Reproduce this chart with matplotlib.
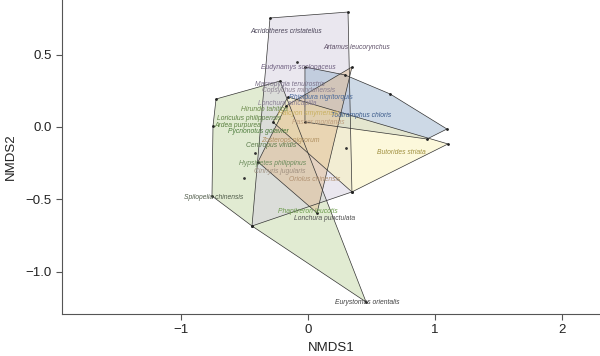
import matplotlib
matplotlib.use("Agg")
import matplotlib.pyplot as plt

# hull vertices of each group (NMDS1, NMDS2)
hull_lavender_x = [-0.299, 0.315, 0.346, -0.441]
hull_lavender_y = [0.752, 0.793, -0.448, -0.683]
hull_green_x = [-0.724, -0.220, 0.457, -0.441, -0.756, -0.748]
hull_green_y = [0.193, 0.317, -1.207, -0.683, -0.476, 0.007]
hull_blue_x = [-0.024, 0.291, 0.646, 1.094, 0.937, -0.024]
hull_blue_y = [0.414, 0.359, 0.228, -0.014, -0.083, 0.034]
hull_orange_x = [0.346, -0.173, -0.394, 0.071]
hull_orange_y = [0.414, 0.145, -0.241, -0.593]
hull_yellow_x = [-0.157, 1.102, 0.346, -0.276]
hull_yellow_y = [0.207, -0.117, -0.448, 0.034]

# extra species points without hull role
pts_x = [-0.087, 0.299, -0.417, -0.504]
pts_y = [0.448, -0.145, -0.179, -0.352]

# species labels
labels = ["Acridotheres cristatellus", "Artamus leucorynchus", "Eudynamys scolopaceus",
          "Macropygia tenuirostris", "Copsychus mindanensis", "Rhipidura nigritorquis",
          "Lonchura atricapilla", "Hirundo tahitica", "Loriculus philippensis",
          "Ardea purpurea", "Todiramphus chloris", "Halcyon smyrnensis",
          "Passer montanus", "Pycnonotus goiavier", "Zosterops nigrorum",
          "Centropus viridis", "Butorides striata", "Hypsipetes philippinus",
          "Cinnyris jugularis", "Oriolus chinensis", "Spilopelia chinensis",
          "Phapitreron leucotis", "Lonchura punctulata", "Eurystomus orientalis"]
lab_x = [-0.173, 0.386, -0.079, -0.142, -0.075, 0.105, -0.165, -0.346, -0.465,
         -0.551, 0.420, 0.000, 0.079, -0.394, -0.142, -0.291, 0.732, -0.276,
         -0.225, 0.050, -0.740, 0.000, 0.130, 0.465]
lab_y = [0.662, 0.545, 0.407, 0.290, 0.250, 0.205, 0.159, 0.121, 0.060,
         0.010, 0.076, 0.095, 0.030, -0.034, -0.090, -0.131, -0.179, -0.255,
         -0.310, -0.362, -0.483, -0.584, -0.630, -1.214]
lab_col = ["#4a4458", "#5e5068", "#6e5f80", "#7a7088", "#8a8090", "#4a6a9a",
           "#8a7f95", "#6a8a4a", "#5a8040", "#5a8040", "#3a5a8a", "#c8b060",
           "#c0a080", "#4a7a3a", "#b09060", "#5a7a4a", "#a09040", "#6a8a5a",
           "#a09080", "#b09070", "#4e5a48", "#6a9a4a", "#505050", "#404040"]

plt.rcParams['font.family'] = ['Liberation Sans', 'DejaVu Sans']

fig = plt.figure(figsize=(6, 3.56), dpi=100)
ax = fig.add_axes([0.1033, 0.118, 0.8967, 0.882])

hulls = [(hull_green_x, hull_green_y, "#c4d8a6"),
         (hull_lavender_x, hull_lavender_y, "#d7d1e1"),
         (hull_blue_x, hull_blue_y, "#9cb5cf"),
         (hull_yellow_x, hull_yellow_y, "#fbf3b9"),
         (hull_orange_x, hull_orange_y, "#e2bf95")]
for hx, hy, c in hulls:
    ax.fill(hx, hy, facecolor=c, alpha=0.5, edgecolor="none")
for hx, hy, c in hulls:
    ax.fill(hx, hy, facecolor="none", edgecolor="#333333", linewidth=0.5)
    ax.plot(hx, hy, ".", color="#222222", markersize=2)

ax.plot(pts_x, pts_y, ".", color="#333333", markersize=2)

for t, x, y, c in zip(labels, lab_x, lab_y, lab_col):
    ax.text(x, y, t, color=c, fontsize=4.9, style="italic",
            ha="center", va="center")

ax.set_xlim(-1.937, 2.299)
ax.set_ylim(-1.290, 0.876)
ax.set_xticks([-1, 0, 1, 2])
ax.set_yticks([0.5, 0.0, -0.5, -1.0])
ax.set_yticklabels(["0.5", "0.0", "\u22120.5", "\u22121.0"])
ax.set_xticklabels(["\u22121", "0", "1", "2"])
for s in ["top", "right"]:
    ax.spines[s].set_visible(False)
for s in ["left", "bottom"]:
    ax.spines[s].set_color("#555555")
    ax.spines[s].set_linewidth(0.8)
ax.tick_params(colors="#555555", labelcolor="#222222", labelsize=9.5, length=4, width=0.8)
ax.set_xlabel("NMDS1", fontsize=9.5, color="#222222", labelpad=4)
ax.set_ylabel("NMDS2", fontsize=9.5, color="#222222", labelpad=6)

fig.savefig("out.png", dpi=100)
